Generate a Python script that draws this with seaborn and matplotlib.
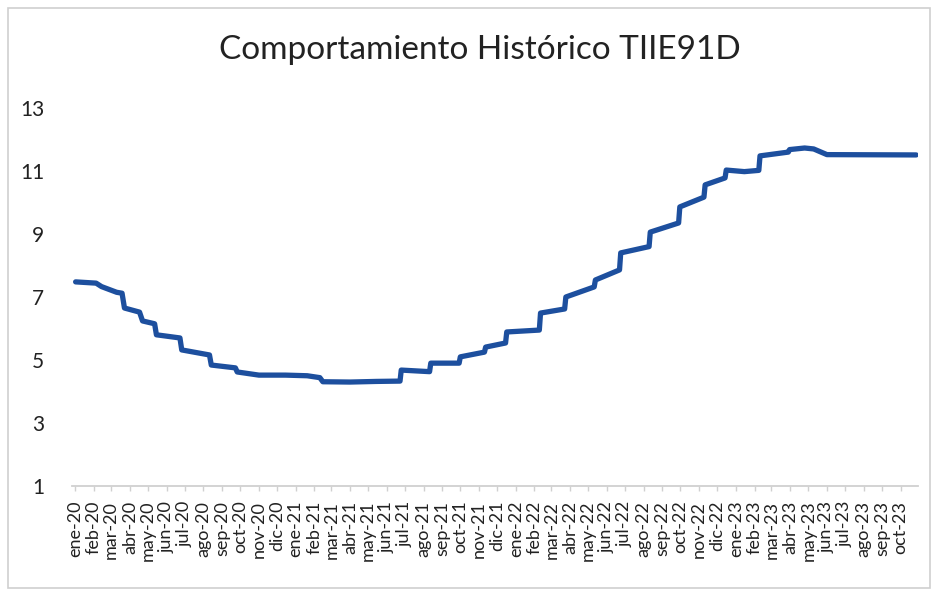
import pandas as pd
import matplotlib
matplotlib.use('Agg')
import matplotlib.pyplot as plt
from matplotlib.patches import Rectangle
import seaborn as sns

# readings taken off the chart (point before / after each jump)
fechas = [
    '2020-01-02', '2020-02-05', '2020-02-14', '2020-03-10', '2020-03-19', '2020-03-23',
    '2020-04-17', '2020-04-22', '2020-05-12', '2020-05-15', '2020-06-23', '2020-06-26',
    '2020-08-11', '2020-08-14', '2020-09-23', '2020-09-26', '2020-11-01', '2020-12-15',
    '2021-01-20', '2021-02-10', '2021-02-15', '2021-04-01', '2021-05-15', '2021-06-23',
    '2021-06-25', '2021-08-11', '2021-08-13', '2021-09-29', '2021-10-01', '2021-11-10',
    '2021-11-12', '2021-12-15', '2021-12-17', '2022-02-09', '2022-02-11', '2022-03-23',
    '2022-03-25', '2022-05-11', '2022-05-13', '2022-06-22', '2022-06-24', '2022-08-10',
    '2022-08-12', '2022-09-28', '2022-09-30', '2022-11-09', '2022-11-11', '2022-12-14',
    '2022-12-16', '2023-01-15', '2023-02-08', '2023-02-10', '2023-03-29', '2023-03-31',
    '2023-04-25', '2023-05-10', '2023-06-01', '2023-10-27',
]
tiie91 = [
    7.48, 7.44, 7.33, 7.15, 7.12, 6.65,
    6.52, 6.24, 6.15, 5.80, 5.70, 5.32,
    5.16, 4.84, 4.75, 4.62, 4.52, 4.52,
    4.50, 4.44, 4.31, 4.30, 4.32, 4.33,
    4.68, 4.63, 4.90, 4.90, 5.10, 5.25,
    5.41, 5.54, 5.89, 5.95, 6.49, 6.62,
    7.00, 7.32, 7.54, 7.86, 8.40, 8.60,
    9.06, 9.35, 9.86, 10.17, 10.56, 10.78,
    11.03, 10.98, 11.02, 11.48, 11.60, 11.68,
    11.73, 11.70, 11.52, 11.51,
]

meses = ['ene', 'feb', 'mar', 'abr', 'may', 'jun', 'jul', 'ago', 'sep', 'oct', 'nov', 'dic']
y_ticks = [1, 3, 5, 7, 9, 11, 13]
titulo = 'Comportamiento Histórico TIIE91D'

df = pd.DataFrame({'fecha': pd.to_datetime(fechas), 'tasa': tiie91})

sns.set_theme(style='white')
plt.rcParams['font.family'] = ['Lato', 'DejaVu Sans']

fig = plt.figure(figsize=(9.35, 5.92), dpi=100)
ax = fig.add_axes([72 / 935, 1 - 486 / 592, (918 - 72) / 935, (486 - 108) / 592])

sns.lineplot(data=df, x='fecha', y='tasa', ax=ax, color='#1d4f9e', linewidth=3.8)

ax.set_xlim(pd.Timestamp('2019-12-27'), pd.Timestamp('2023-10-30'))
ax.set_ylim(1, 13)
ax.set_yticks(y_ticks)
ax.set_yticklabels([str(v) for v in y_ticks], fontsize=15, color='#222222')

ticks = pd.date_range('2020-01-01', '2023-10-01', freq='MS')
ax.set_xticks(ticks)
ax.set_xticklabels([f'{meses[t.month - 1]}-{t.year % 100:02d}' for t in ticks],
                   rotation=90, fontsize=13, color='#222222')

ax.set_xlabel('')
ax.set_ylabel('')
for s in ['top', 'right', 'left']:
    ax.spines[s].set_visible(False)
ax.spines['bottom'].set_color('#d0d0d0')
ax.spines['bottom'].set_linewidth(1.3)
ax.tick_params(axis='x', length=3.6, width=1, color='#d0d0d0', pad=7, bottom=True)
ax.tick_params(axis='y', length=0, pad=20)

fig.text(0.513, 1 - 50 / 592, titulo, ha='center', va='center', fontsize=24, color='#222222')

# thin frame around the chart area, like the spreadsheet chart border
fig.add_artist(Rectangle((8 / 935, 4 / 592), 922 / 935, 580 / 592, transform=fig.transFigure,
                         fill=False, edgecolor='#cfcfcf', linewidth=1.2))

fig.savefig('out.png', dpi=100)
